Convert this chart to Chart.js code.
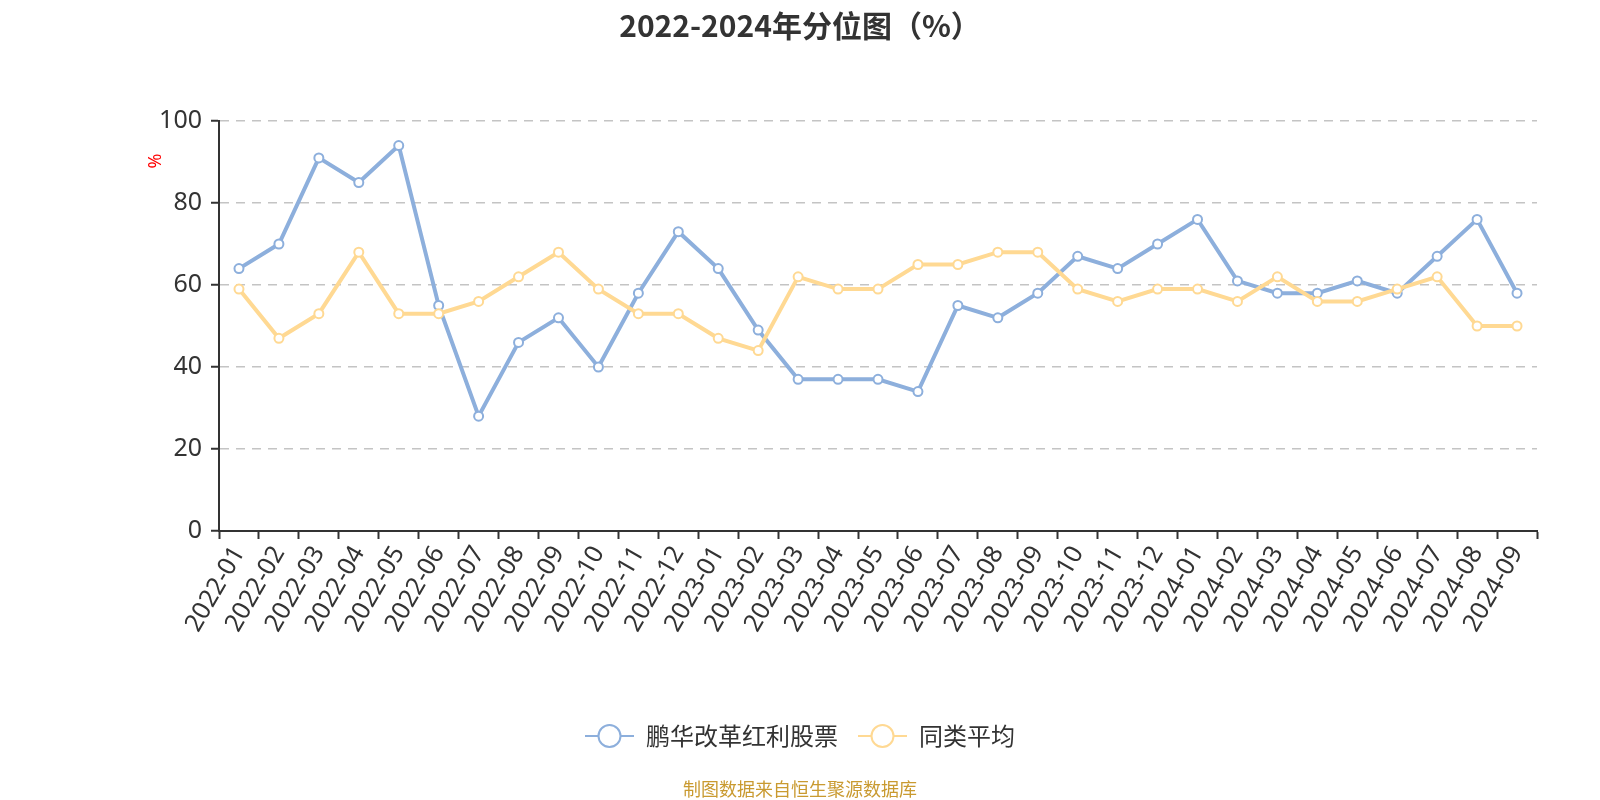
<!DOCTYPE html>
<html>
<head>
<meta charset="utf-8">
<script src="https://cdn.jsdelivr.net/npm/chart.js@4/dist/chart.umd.min.js"></script>
<style>
  html, body { margin: 0; padding: 0; background: #fff; }
  #wrap { width: 1600px; height: 800px; position: relative; }
</style>
</head>
<body>
<div id="wrap"><canvas id="c" width="1600" height="800"></canvas></div>
<script>
const categories = [
  "2022-01","2022-02","2022-03","2022-04","2022-05","2022-06","2022-07","2022-08","2022-09","2022-10","2022-11","2022-12",
  "2023-01","2023-02","2023-03","2023-04","2023-05","2023-06","2023-07","2023-08","2023-09","2023-10","2023-11","2023-12",
  "2024-01","2024-02","2024-03","2024-04","2024-05","2024-06","2024-07","2024-08","2024-09"
];
const fundValues = [64, 70, 91, 85, 94, 55, 28, 46, 52, 40, 58, 73,
                    64, 49, 37, 37, 37, 34, 55, 52, 58, 67, 64, 70,
                    76, 61, 58, 58, 61, 58, 67, 76, 58];
const avgValues  = [59, 47, 53, 68, 53, 53, 56, 62, 68, 59, 53, 53,
                    47, 44, 62, 59, 59, 65, 65, 68, 68, 59, 56, 59,
                    59, 56, 62, 56, 56, 59, 62, 50, 50];
const seriesNames = ["鹏华改革红利股票", "同类平均"];
const yTickValues = [0, 20, 40, 60, 80, 100];
const titleText = "2022-2024年分位图（%）";
const yUnit = "%";
const footerText = "制图数据来自恒生聚源数据库";

const BLUE = "#8DAFDC";
const ORANGE = "#FFD993";
const FONT = "'Noto Sans', 'Noto Sans CJK SC', sans-serif";

function makeLegendIcon(color) {
  const cv = document.createElement("canvas");
  cv.width = 49; cv.height = 26;
  const g = cv.getContext("2d");
  g.strokeStyle = color; g.lineWidth = 2;
  g.beginPath(); g.moveTo(0, 13); g.lineTo(49, 13); g.stroke();
  g.beginPath(); g.arc(24.5, 13, 11, 0, Math.PI * 2);
  g.fillStyle = "#fff"; g.fill(); g.stroke();
  return cv;
}
const icons = [makeLegendIcon(BLUE), makeLegendIcon(ORANGE)];

const extrasPlugin = {
  id: "extras",
  afterDraw(chart) {
    const ctx = chart.ctx;
    ctx.save();
    ctx.fillStyle = "#C99A30";
    ctx.font = "18px 'Noto Sans CJK SC', sans-serif";
    ctx.textAlign = "center";
    ctx.textBaseline = "middle";
    ctx.fillText(footerText, 800, 789);
    ctx.restore();

    ctx.save();
    ctx.translate(156, 161);
    ctx.rotate(-Math.PI / 2);
    ctx.fillStyle = "#FF0000";
    ctx.font = "18px " + FONT;
    ctx.textAlign = "center";
    ctx.textBaseline = "middle";
    ctx.fillText(yUnit, 0, 0);
    ctx.restore();
  }
};

new Chart(document.getElementById("c"), {
  type: "line",
  data: {
    labels: categories,
    datasets: [
      {
        label: seriesNames[0], data: fundValues, order: 1,
        borderColor: BLUE, backgroundColor: "#fff", borderWidth: 4,
        pointRadius: 4.5, pointBorderWidth: 2, pointBackgroundColor: "#fff", pointBorderColor: BLUE,
        tension: 0
      },
      {
        label: seriesNames[1], data: avgValues, order: 0,
        borderColor: ORANGE, backgroundColor: "#fff", borderWidth: 4,
        pointRadius: 4.5, pointBorderWidth: 2, pointBackgroundColor: "#fff", pointBorderColor: ORANGE,
        tension: 0
      }
    ]
  },
  options: {
    responsive: false,
    animation: false,
    layout: { padding: { left: 0, right: 0, top: 0, bottom: 42 } },
    plugins: {
      tooltip: { enabled: false },
      title: {
        display: true, text: titleText, color: "#333",
        font: { size: 30, weight: "bold", family: "'Noto Sans CJK SC', sans-serif", lineHeight: 1.2 },
        padding: { top: 8, bottom: 77 }
      },
      legend: {
        position: "bottom",
        labels: {
          usePointStyle: true,
          pointStyleWidth: 49,
          padding: 20,
          color: "#333",
          font: { size: 24, family: "'Noto Sans CJK SC', sans-serif" },
          sort: (a, b) => a.datasetIndex - b.datasetIndex,
          generateLabels(chart) {
            const items = Chart.defaults.plugins.legend.labels.generateLabels(chart);
            items.forEach(it => { it.pointStyle = icons[it.datasetIndex]; });
            return items;
          }
        }
      }
    },
    scales: {
      x: {
        type: "category",
        offset: true,
        afterFit(s) { s.height = 173; },
        grid: { display: true, offset: true, drawOnChartArea: false, drawTicks: true, tickLength: 8, tickColor: "#333", tickWidth: 2 },
        border: { display: true, color: "#333", width: 2 },
        ticks: { color: "#333", font: { size: 25, family: FONT }, minRotation: 60, maxRotation: 60, autoSkip: false, padding: 2 }
      },
      y: {
        min: 0, max: 100,
        afterFit(s) { s.width = 219; },
        afterBuildTicks(s) { s.ticks = yTickValues.map(v => ({ value: v })); },
        grid: {
          color: (c) => (c.tick && c.tick.value === 0) ? "rgba(0,0,0,0)" : "#C4C4C4",
          lineWidth: 1.5,
          drawTicks: true, tickLength: 8, tickColor: "#333", tickWidth: 2, tickBorderDash: []
        },
        border: { display: true, color: "#333", width: 2, dash: [9, 7] },
        ticks: { color: "#333", font: { size: 25, family: FONT }, padding: 9 }
      },
      yRight: {
        position: "right",
        display: true,
        afterFit(s) { s.width = 63; },
        grid: { display: false, drawOnChartArea: false },
        border: { display: false },
        ticks: { display: false }
      }
    }
  },
  plugins: [extrasPlugin]
});
</script>
</body>
</html>
